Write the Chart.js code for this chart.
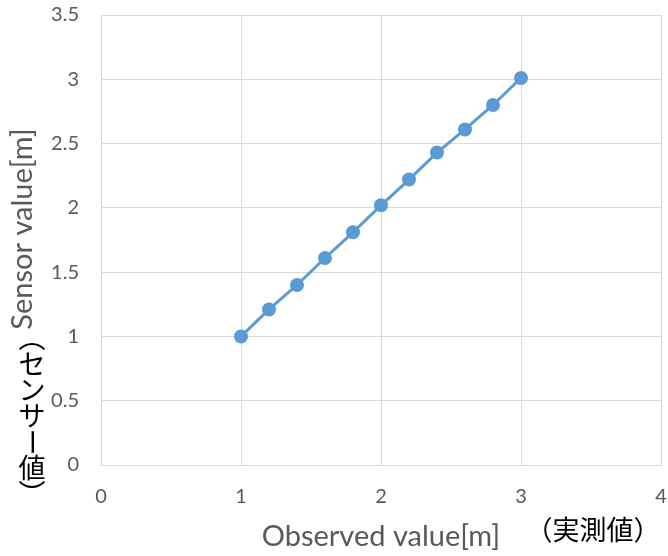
<!DOCTYPE html>
<html>
<head>
<meta charset="utf-8">
<script src="https://cdn.jsdelivr.net/npm/chart.js@4.4.1/dist/chart.umd.min.js"></script>
<style>
  html, body { margin: 0; padding: 0; background: #fff; }
  #wrap { width: 668px; height: 556px; }
</style>
</head>
<body>
<div id="wrap"><canvas id="grafico"></canvas></div>
<script>
// Valores medidos y valores del sensor (m)
const observado = [1, 1.2, 1.4, 1.6, 1.8, 2, 2.2, 2.4, 2.6, 2.8, 3];
const sensor = [1.00, 1.21, 1.40, 1.61, 1.81, 2.02, 2.22, 2.43, 2.61, 2.80, 3.01];
const ticksX = [0, 1, 2, 3, 4];
const ticksY = [0, 0.5, 1, 1.5, 2, 2.5, 3, 3.5];

const tituloX = 'Observed value[m]';
const tituloXJa = '（実測値）';
const tituloY = 'Sensor value[m]';
const tituloYJa = ['︵', 'セ', 'ン', 'サ', 'ー', '値', '︶'];

const gris = '#595959';
const fuenteLat = 'Lato, "Open Sans", sans-serif';
const fuenteJa = '"Noto Sans CJK JP", sans-serif';

// Títulos de los ejes dibujados a mano (el japonés va en vertical)
const titulos = {
    id: 'titulos',
    afterDraw(chart) {
        const ctx = chart.ctx;
        const area = chart.chartArea;
        ctx.save();
        ctx.textAlign = 'center';
        ctx.textBaseline = 'middle';

        ctx.fillStyle = gris;
        ctx.font = '29px ' + fuenteLat;
        ctx.fillText(tituloX, (area.left + area.right) / 2, 537);

        ctx.fillStyle = '#000';
        ctx.font = '27px ' + fuenteJa;
        ctx.fillText(tituloXJa, 593, 530);

        ctx.save();
        ctx.translate(23, 229);
        ctx.rotate(-Math.PI / 2);
        ctx.fillStyle = gris;
        ctx.font = '29px ' + fuenteLat;
        ctx.fillText(tituloY, 0, 0);
        ctx.restore();

        ctx.fillStyle = '#000';
        ctx.font = '27px ' + fuenteJa;
        let y = 338;
        tituloYJa.forEach(function(c) {
            if (c === 'ー') {
                ctx.save();
                ctx.translate(32, y);
                ctx.rotate(Math.PI / 2);
                ctx.fillText(c, 0, 0);
                ctx.restore();
            } else {
                ctx.fillText(c, 32, y);
            }
            y += 26;
        });
        ctx.restore();
    }
};

new Chart(document.getElementById('grafico'), {
    type: 'scatter',
    data: {
        datasets: [{
            data: observado.map((x, i) => ({ x: x, y: sensor[i] })),
            showLine: true,
            borderColor: '#5B9BD5',
            backgroundColor: '#5B9BD5',
            borderWidth: 3,
            pointRadius: 7,
            pointBorderWidth: 0,
            pointHoverRadius: 7
        }]
    },
    options: {
        responsive: true,
        maintainAspectRatio: false,
        animation: false,
        layout: { padding: { top: 15, right: 3, left: 0, bottom: 0 } },
        plugins: { legend: { display: false }, tooltip: { enabled: false } },
        scales: {
            x: {
                type: 'linear',
                min: 0, max: 4,
                afterBuildTicks: s => { s.ticks = ticksX.map(v => ({ value: v })); },
                afterFit: s => { s.height = 91; s.paddingLeft = 0; s.paddingRight = 0; },
                grid: { color: '#d9d9d9', lineWidth: 1, drawTicks: false },
                border: { color: '#d9d9d9' },
                ticks: { color: gris, font: { family: fuenteLat, size: 20 }, padding: 20, maxRotation: 0,
                         callback: v => String(v) }
            },
            y: {
                type: 'linear',
                min: 0, max: 3.5,
                afterBuildTicks: s => { s.ticks = ticksY.map(v => ({ value: v })); },
                afterFit: s => { s.width = 101; s.paddingTop = 0; s.paddingBottom = 0; },
                grid: { color: '#d9d9d9', lineWidth: 1, drawTicks: false },
                border: { color: '#d9d9d9' },
                ticks: { color: gris, font: { family: fuenteLat, size: 20 }, padding: 22,
                         callback: v => String(v) }
            }
        }
    },
    plugins: [titulos]
});
</script>
</body>
</html>
